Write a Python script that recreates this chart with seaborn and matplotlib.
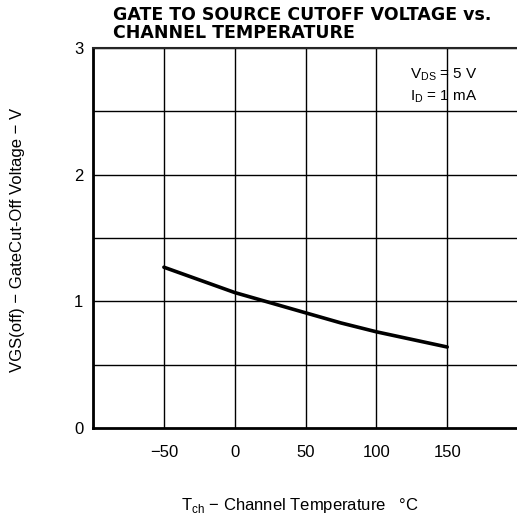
import matplotlib
matplotlib.use('Agg')
import matplotlib.pyplot as plt
import pandas as pd
import seaborn as sns

# dados
temp = [-50, -25, 0, 25, 50, 75, 100, 125, 150]
vgs_off = [1.27, 1.17, 1.07, 0.99, 0.91, 0.83, 0.76, 0.70, 0.64]
x_ticks = [-50, 0, 50, 100, 150]
x_labels = ['\u221250', '0', '50', '100', '150']
y_ticks = [0, 1, 2, 3]

df = pd.DataFrame({'Tch': temp, 'Vgs': vgs_off})

sns.set_style('white')
plt.rcParams['font.family'] = ['Liberation Sans', 'DejaVu Sans']
plt.rcParams['text.color'] = 'black'
plt.rcParams['xtick.color'] = 'black'
plt.rcParams['ytick.color'] = 'black'

fig = plt.figure(figsize=(5.17, 5.17), dpi=100)
ax = fig.add_axes([0.180, 0.172, 0.822, 0.735])

# grade
for gx in range(-100, 201, 50):
    ax.axvline(gx, color='black', lw=1.0, zorder=1)
for gy in [0.5, 1.0, 1.5, 2.0, 2.5, 3.0]:
    ax.axhline(gy, color='black', lw=1.0, zorder=1)

sns.lineplot(data=df, x='Tch', y='Vgs', color='black', lw=2.6, ax=ax, zorder=3)

ax.set_xlim(-100, 200)
ax.set_ylim(0, 3)
ax.set_xticks(x_ticks)
ax.set_xticklabels(x_labels, fontsize=12)
ax.set_yticks(y_ticks)
ax.set_yticklabels([str(v) for v in y_ticks], fontsize=12)
ax.tick_params(axis='x', length=0, pad=12)
ax.tick_params(axis='y', length=0, pad=7)
ax.set_xlabel('')
ax.set_ylabel('')

for s in ['left', 'bottom']:
    ax.spines[s].set_linewidth(2.0)
    ax.spines[s].set_color('black')
ax.spines['top'].set_linewidth(1.5)
ax.spines['right'].set_visible(False)

ax.text(0.825, 0.929, r'V$_{\mathregular{DS}}$ = 5 V', transform=ax.transAxes,
        ha='center', va='center', fontsize=11)
ax.text(0.825, 0.871, r'I$_{\mathregular{D}}$ = 1 mA', transform=ax.transAxes,
        ha='center', va='center', fontsize=11)

fig.text(0.218, 0.971, 'GATE TO SOURCE CUTOFF VOLTAGE vs.', fontsize=12.5,
         fontweight='bold', ha='left', va='center', family='DejaVu Sans')
fig.text(0.218, 0.936, 'CHANNEL TEMPERATURE', fontsize=12.5,
         fontweight='bold', ha='left', va='center', family='DejaVu Sans')

fig.text(0.033, 0.535, 'VGS(off) \u2212 GateCut-Off Voltage \u2212 V', rotation=90,
         ha='center', va='center', fontsize=12)
fig.text(0.58, 0.023, 'T$_{\\mathregular{ch}}$ \u2212 Channel Temperature   \u00b0C',
         ha='center', va='center', fontsize=12)

fig.savefig('out.png', dpi=100)
